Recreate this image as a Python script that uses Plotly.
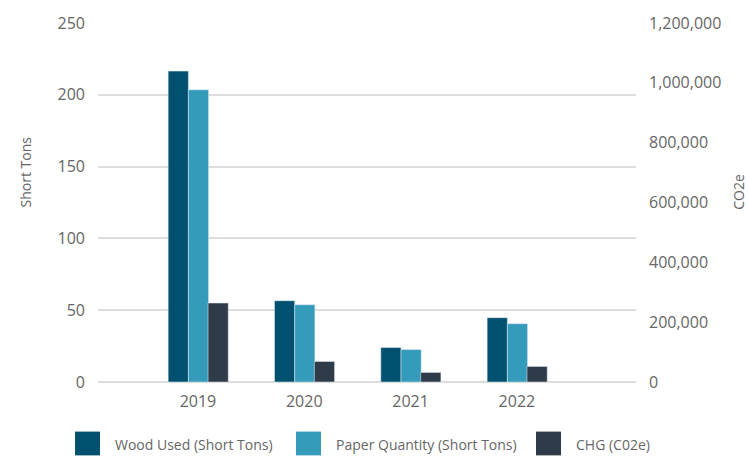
import plotly.graph_objects as go

years = ["2019", "2020", "2021", "2022"]
wood_used = [216.5, 56.6, 24.0, 44.8]
paper_qty = [203.5, 53.8, 22.6, 40.6]
chg_co2e = [264000, 68600, 32000, 52000]

left_ticks = [0, 50, 100, 150, 200, 250]
right_ticks = [0, 200000, 400000, 600000, 800000, 1000000, 1200000]

names = ["Wood Used (Short Tons)", "Paper Quantity (Short Tons)", "CHG (C02e)"]
colors = ["#02506F", "#359BBB", "#2F3B48"]
font_family = "Open Sans, Noto Sans, sans-serif"
tick_color = "#666666"

fig = go.Figure()
fig.add_trace(go.Bar(x=years, y=wood_used, name=names[0], marker_color=colors[0],
                     width=0.19, offset=-0.28, yaxis="y"))
fig.add_trace(go.Bar(x=years, y=paper_qty, name=names[1], marker_color=colors[1],
                     width=0.19, offset=-0.09, yaxis="y"))
fig.add_trace(go.Bar(x=years, y=chg_co2e, name=names[2], marker_color=colors[2],
                     width=0.19, offset=0.095, yaxis="y2"))

fig.update_layout(
    width=748, height=458,
    margin=dict(l=98, r=112, t=20, b=76),
    paper_bgcolor="white", plot_bgcolor="white",
    showlegend=False,
    font=dict(family=font_family, color=tick_color, size=16),
    xaxis=dict(type="category", range=[-0.94, 4.12], showgrid=False,
               showline=False, ticks="", tickfont=dict(size=16, color=tick_color),
               ticklabelstandoff=8),
    yaxis=dict(range=[0, 250], tickvals=left_ticks, showgrid=True,
               gridcolor="#DDDDDD", gridwidth=1.5, zeroline=True,
               zerolinecolor="#DDDDDD", zerolinewidth=1.5,
               tickfont=dict(size=16, color=tick_color), ticklabelstandoff=12),
    yaxis2=dict(range=[0, 1200000], tickvals=right_ticks, overlaying="y",
                side="right", showgrid=False, zeroline=False,
                tickformat=",d", tickfont=dict(size=16, color=tick_color),
                ticklabelstandoff=12),
)

# axis titles
fig.add_annotation(text="Short Tons", xref="paper", yref="paper",
                   x=-0.133, y=0.585, textangle=-90, showarrow=False,
                   font=dict(size=14, color=tick_color), xanchor="center", yanchor="middle")
fig.add_annotation(text="CO2e", xref="paper", yref="paper",
                   x=(739 - 98) / 538, y=0.53, textangle=-90, showarrow=False,
                   font=dict(size=14, color=tick_color), xanchor="center", yanchor="middle")

# custom legend
leg_x = [75, 296, 536]
for i, (nm, col) in enumerate(zip(names, colors)):
    x0 = leg_x[i]
    fig.add_shape(type="rect", xref="paper", yref="paper",
                  x0=(x0 - 98) / 538, x1=(x0 + 25 - 98) / 538,
                  y0=(382 - 456) / 362, y1=(382 - 432) / 362,
                  fillcolor=col, line=dict(width=0))
    fig.add_annotation(text=nm, xref="paper", yref="paper",
                       x=(x0 + 38 - 98) / 538, y=(382 - 445) / 362,
                       xanchor="left", yanchor="middle", showarrow=False,
                       font=dict(size=14, color=tick_color))

fig.write_html("out.html", config={"displayModeBar": False},
               post_script="document.body.style.margin='0';document.body.style.padding='0';")
